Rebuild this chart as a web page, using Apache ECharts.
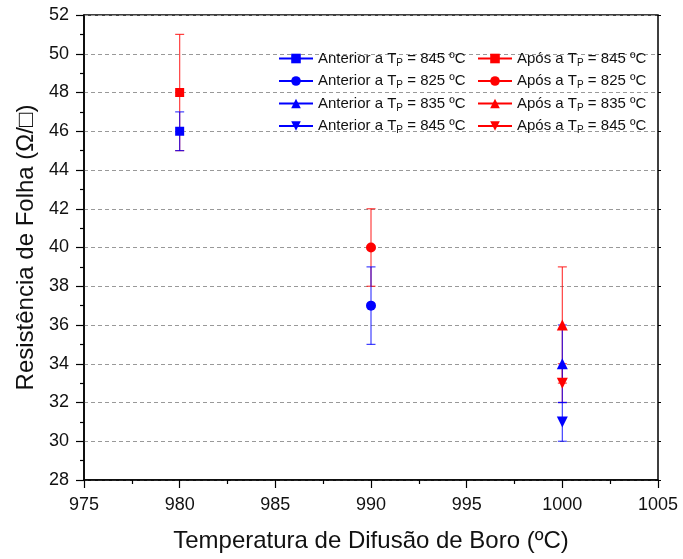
<!DOCTYPE html>
<html>
<head>
<meta charset="utf-8">
<script src="https://cdn.jsdelivr.net/npm/echarts@6/dist/echarts.min.js"></script>
<style>
  html, body { margin: 0; padding: 0; background: #fff; }
  #main { width: 683px; height: 559px; }
</style>
</head>
<body>
<div id="main"></div>
<script>
// temperaturas de difusão (eixo x)
var temps = [980, 990, 1000, 1000];
// T_P de cada série
var tpLabels = ["845", "825", "835", "845"];
// valores antes / depois
var antValues = [46, 37, 34, 31];
var antErrors = [1, 2, 2, 1];
var posValues = [48, 40, 36, 33];
var posErrors = [3, 2, 3, 1];

var symbols = ["rect", "circle", "triangle", "path://M0,0 L10,0 L5,10 Z"];
var symbolSizes = [9, 10, 11, 11];
var BLUE = "#0000ff";
var RED = "#ff0000";
var FONT = "Liberation Sans, Arial";

var chart = echarts.init(document.getElementById("main"));

function errSeries(vals, errs, color) {
  var d = [];
  for (var i = 0; i < vals.length; i++) {
    d.push([temps[i], vals[i] - errs[i], vals[i] + errs[i]]);
  }
  return {
    type: "custom",
    silent: true,
    z: 1,
    data: d,
    renderItem: function (params, api) {
      var lo = api.coord([api.value(0), api.value(1)]);
      var hi = api.coord([api.value(0), api.value(2)]);
      var w = 4.5;
      var st = { stroke: color, lineWidth: 1.2, opacity: 0.75 };
      return {
        type: "group",
        children: [
          { type: "line", shape: { x1: lo[0], y1: lo[1], x2: hi[0], y2: hi[1] }, style: st },
          { type: "line", shape: { x1: lo[0] - w, y1: lo[1], x2: lo[0] + w, y2: lo[1] }, style: st },
          { type: "line", shape: { x1: hi[0] - w, y1: hi[1], x2: hi[0] + w, y2: hi[1] }, style: st }
        ]
      };
    }
  };
}

var series = [errSeries(posValues, posErrors, RED), errSeries(antValues, antErrors, BLUE)];
var antNames = [], posNames = [], nameMap = {};
for (var i = 0; i < temps.length; i++) {
  var na = "ant" + i, np = "pos" + i;
  antNames.push(na);
  posNames.push(np);
  nameMap[na] = "{a|Anterior a T}{s|P}{a| = " + tpLabels[i] + " ºC}";
  nameMap[np] = "{a|Após a T}{s|P}{a| = " + tpLabels[i] + " ºC}";
}
for (var i = 0; i < temps.length; i++) {
  series.push({
    name: posNames[i], type: "line", z: 3,
    symbol: symbols[i], symbolSize: symbolSizes[i],
    itemStyle: { color: RED }, lineStyle: { color: RED, width: 1.5 },
    data: [[temps[i], posValues[i]]]
  });
}
for (var i = 0; i < temps.length; i++) {
  series.push({
    name: antNames[i], type: "line", z: 4,
    symbol: symbols[i], symbolSize: symbolSizes[i],
    itemStyle: { color: BLUE }, lineStyle: { color: BLUE, width: 1.5 },
    data: [[temps[i], antValues[i]]]
  });
}

var legendText = {
  rich: {
    a: { fontFamily: FONT, fontSize: 15, color: "#111" },
    s: { fontFamily: FONT, fontSize: 10, color: "#111", padding: [9, 0, 0, 0] }
  }
};
function mkLegend(names, left) {
  return {
    data: names, orient: "vertical", left: left, top: 51,
    itemWidth: 34, itemHeight: 12, itemGap: 5.5, padding: 0,
    formatter: function (n) { return nameMap[n]; },
    textStyle: legendText
  };
}

chart.setOption({
  animation: false,
  grid: { left: 84, right: 25, top: 15, bottom: 79, show: true, borderColor: "#000", borderWidth: 1.5 },
  legend: [mkLegend(antNames, 278), mkLegend(posNames, 477)],
  xAxis: {
    type: "value", min: 975, max: 1005, interval: 5,
    name: "Temperatura de Difusão de Boro (ºC)", nameLocation: "middle", nameGap: 49,
    nameTextStyle: { fontFamily: FONT, fontSize: 24, color: "#111" },
    axisLine: { lineStyle: { color: "#000", width: 1.5 } },
    axisTick: { length: 8, lineStyle: { color: "#000", width: 1.2 } },
    minorTick: { show: true, splitNumber: 2, length: 4, lineStyle: { color: "#000", width: 1.2 } },
    axisLabel: {
      fontFamily: FONT, fontSize: 18, color: "#111", margin: 16,
      formatter: function (v) { return String(v); }
    },
    splitLine: { show: false }
  },
  yAxis: [{
    type: "value", min: 28, max: 52, interval: 2,
    name: "Resistência de Folha (Ω/□)", nameLocation: "middle", nameGap: 46,
    nameTextStyle: { fontFamily: FONT, fontSize: 24, color: "#111" },
    axisLine: { lineStyle: { color: "#000", width: 1.5 } },
    axisTick: { length: 8, lineStyle: { color: "#000", width: 1.2 } },
    minorTick: { show: true, splitNumber: 2, length: 4, lineStyle: { color: "#000", width: 1.2 } },
    axisLabel: { fontFamily: FONT, fontSize: 18, color: "#111", margin: 15 },
    splitLine: { show: true, lineStyle: { color: "#999", type: [4, 3], width: 1 } }
  }, {
    type: "value", min: 28, max: 52, interval: 2, position: "right",
    axisLine: { show: false }, axisLabel: { show: false }, splitLine: { show: false },
    axisTick: { show: true, length: 3, lineStyle: { color: "#000", width: 1 } }
  }],
  series: series
});
</script>
</body>
</html>
